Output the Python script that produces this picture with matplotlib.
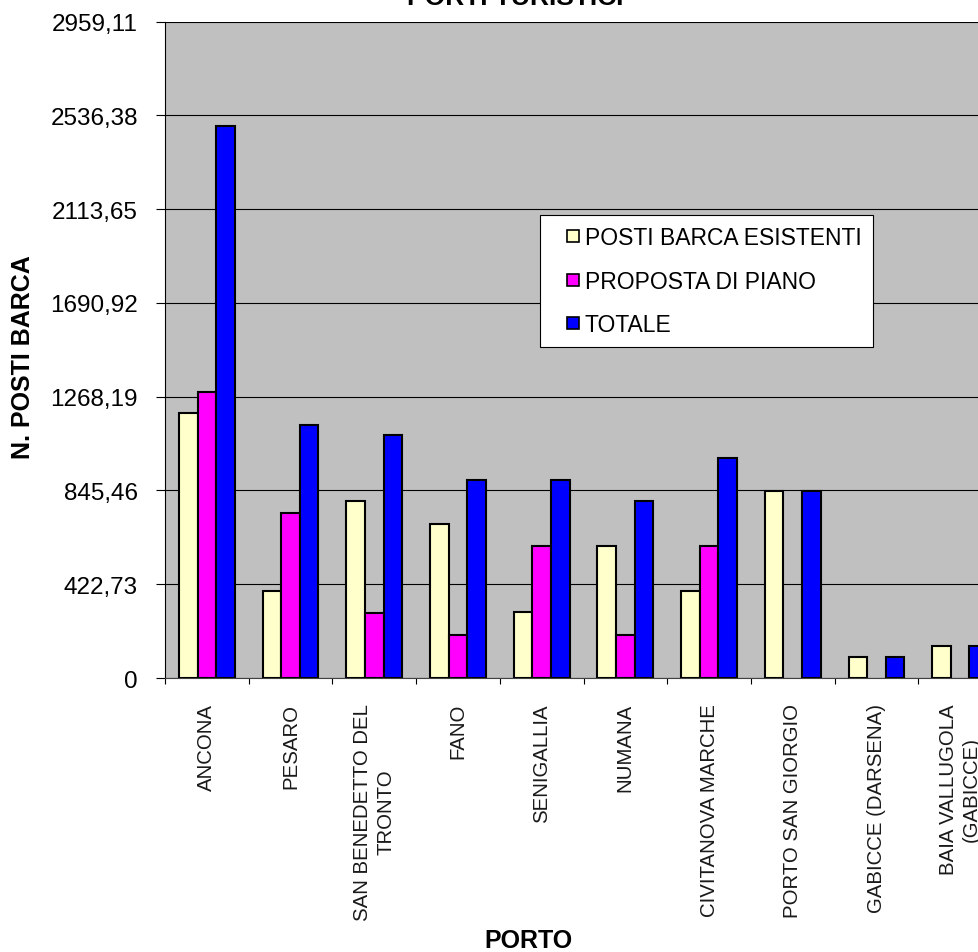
import numpy as np
import matplotlib.pyplot as plt
from matplotlib.lines import Line2D
from matplotlib.ticker import FixedLocator

plt.rcParams['font.family'] = ['Liberation Sans', 'DejaVu Sans']

porti = ['ANCONA', 'PESARO', 'SAN BENEDETTO DEL\nTRONTO', 'FANO', 'SENIGALLIA',
         'NUMANA', 'CIVITANOVA MARCHE', 'PORTO SAN GIORGIO', 'GABICCE (DARSENA)',
         'BAIA VALLUGOLA\n(GABICCE)']
esistenti = [1195, 392, 797, 694, 297, 595, 394, 841, 94, 146]
proposta = [1291, 744, 293, 193, 594, 196, 594, 0, 0, 0]
totale = [2490, 1140, 1095, 894, 893, 796, 990, 841, 94, 146]
series_names = ['POSTI BARCA ESISTENTI', 'PROPOSTA DI PIANO', 'TOTALE']
colors = ['#FFFFCC', '#FF00FF', '#0000FF']
ystep = 422.73
ymax = 2959.11

W, H = 979, 953
fig = plt.figure(figsize=(W / 100, H / 100), dpi=100)
# plot area runs off the right edge, like the reference
ax = fig.add_axes([165 / W, 1 - 679 / H, 837 / W, (679 - 22.7) / H])
ax.set_facecolor('#C0C0C0')

x = np.arange(len(porti))
bw = 0.222
for k, (vals, c) in enumerate(zip([esistenti, proposta, totale], colors)):
    vals = np.array(vals, dtype=float)
    keep = vals > 0
    ax.bar(x[keep] + (k - 1) * bw, vals[keep], width=bw, color=c,
           edgecolor='black', linewidth=1.5, zorder=3)

ax.set_xlim(-0.5, len(porti) - 0.5)
ax.set_ylim(0, ymax)
yt = np.arange(0, 8) * ystep
ax.set_yticks(yt)
ax.set_yticklabels(['0'] + [f'{v:.2f}'.replace('.', ',') for v in yt[1:]])
ax.yaxis.grid(True, color='black', linewidth=0.8, zorder=1)
ax.set_axisbelow(True)
ax.tick_params(axis='y', length=6.5, width=0.8, pad=13, labelsize=17.5)

ax.set_xticks(x)
ax.set_xticklabels(porti, rotation=90, fontsize=14.7, linespacing=1.25,
                   ha='center', va='top', multialignment='center',
                   color='#1a1a1a')
ax.xaxis.set_minor_locator(FixedLocator(np.arange(len(porti) + 1) - 0.5))
ax.tick_params(axis='x', which='major', length=0, pad=18)
ax.tick_params(axis='x', which='minor', length=4.5, width=0.8)

for s in ['top', 'right']:
    ax.spines[s].set_visible(False)
ax.spines['left'].set_linewidth(0.8)
ax.spines['bottom'].set_linewidth(0.8)
ax.spines['bottom'].set_color('#404040')

handles = [Line2D([], [], linestyle='none', marker='s', markersize=8,
                  markerfacecolor=c, markeredgecolor='black',
                  markeredgewidth=1.2) for c in colors]
leg = ax.legend(handles, series_names, loc='upper left',
                bbox_to_anchor=(540 / W, 1 - 216 / H),
                bbox_transform=fig.transFigure, fontsize=16.5, frameon=True,
                fancybox=False, framealpha=1, edgecolor='black',
                handlelength=1.9, handletextpad=-0.45,
                labelspacing=0.88, borderpad=0.5, borderaxespad=0)
leg.get_frame().set_linewidth(0.8)

fig.text(515 / W, 1 - 5 / H, 'PORTI TURISTICI', ha='center', va='baseline',
         fontsize=19, fontweight='bold')
fig.text(528 / W, 1 - 948 / H, 'PORTO', ha='center', va='baseline',
         fontsize=18, fontweight='bold')
fig.text(23 / W, 1 - 357 / H, 'N. POSTI BARCA', ha='center', va='center',
         rotation=90, fontsize=18, fontweight='bold')

fig.savefig('out.png', dpi=100)
